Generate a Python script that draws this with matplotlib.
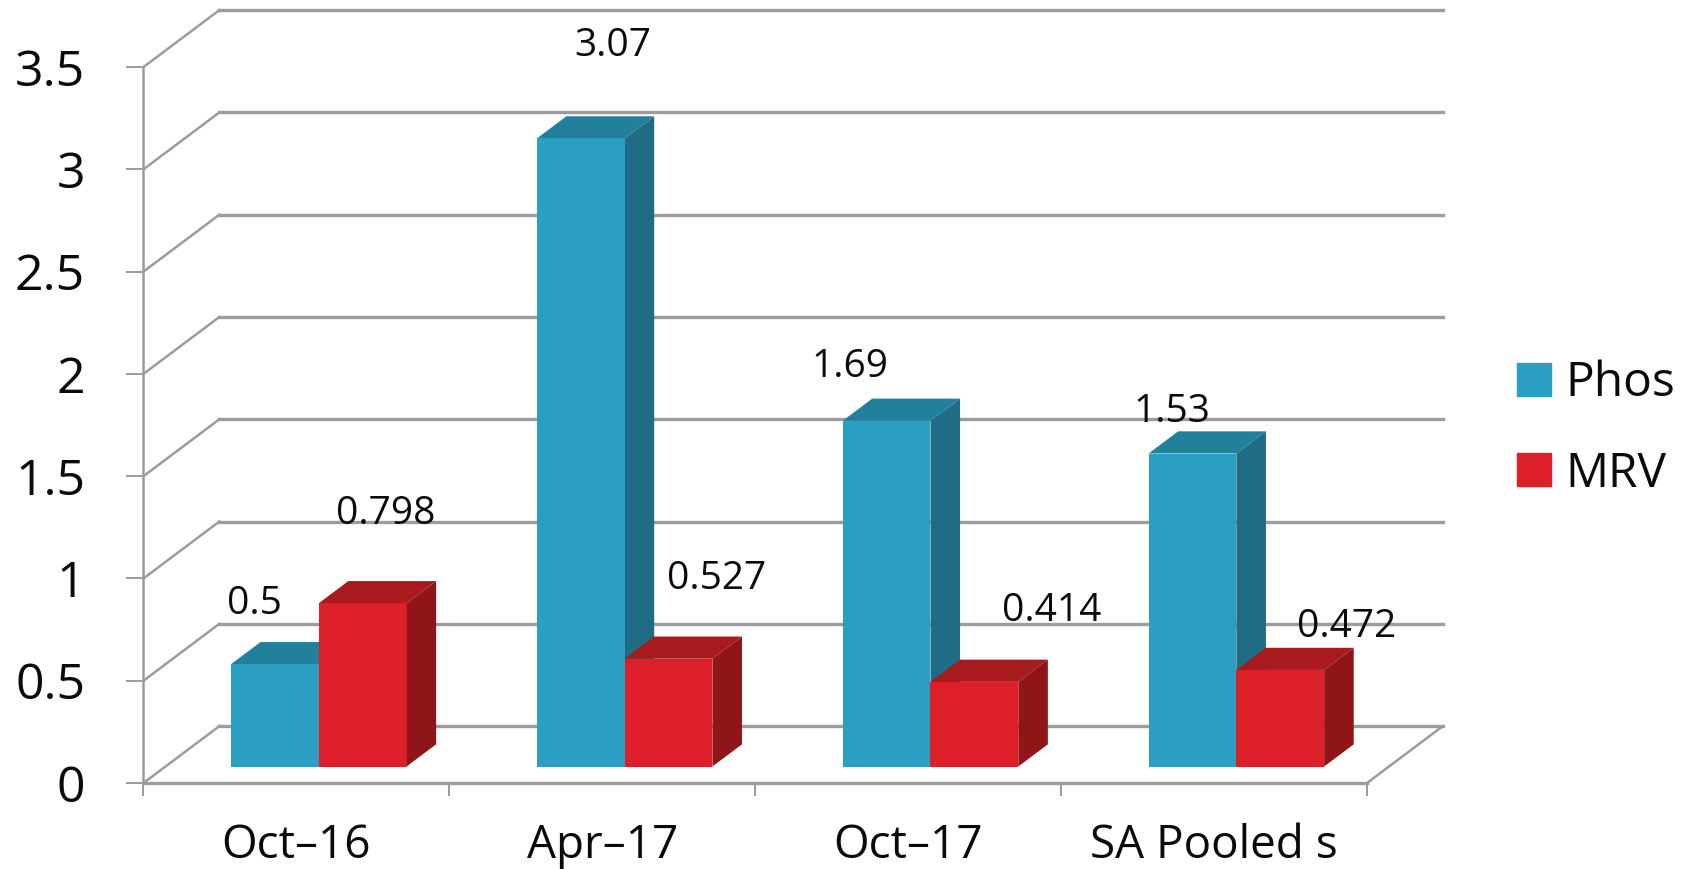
import matplotlib
matplotlib.use("Agg")
import matplotlib.pyplot as plt
from matplotlib.patches import Patch

plt.rcParams['font.family'] = ['Open Sans', 'DejaVu Sans']

# Data
categories = ["Oct\u201316", "Apr\u201317", "Oct\u201317", "SA Pooled s"]
phos = [0.5, 3.07, 1.69, 1.53]
mrv = [0.798, 0.527, 0.414, 0.472]
y_ticks = [0, 0.5, 1, 1.5, 2, 2.5, 3, 3.5]
y_tick_labels = ["0", "0.5", "1", "1.5", "2", "2.5", "3", "3.5"]

# Label nudges in pixels from the top of each bar (hand placed in the original)
phos_offsets = [(-20, 60), (32, 92), (-37, 54), (-21, 42)]
mrv_offsets = [(23, 89), (48, 80), (77, 71), (66, 43)]

# Fake 3D depth, in data units
DEPTH_X = 0.248
DEPTH_Y = 0.278
BAR_W = 0.287
BAR_GAP = 0.214
D0, D1 = 0.29, 0.68
GRID = "#9c9c9c"

W, H = 1690, 869
fig = plt.figure(figsize=(W / 100, H / 100), dpi=100, facecolor="white")
ax = fig.add_axes([143.5 / W, (H - 783) / H, (1367 - 143.5) / W, 716 / H])


def project(x, y, depth):
    return x + depth * DEPTH_X, y + depth * DEPTH_Y


def draw_bar(x, value, front, top, side):
    x1 = x + BAR_W
    fx0, fy0 = project(x, 0, D0)
    fx1, fy1 = project(x1, value, D0)
    bx0, by0 = project(x, 0, D1)
    bx1, by1 = project(x1, value, D1)
    ax.fill([fx1, bx1, bx1, fx1], [fy0, by0, by1, fy1], color=side, lw=0, zorder=3, clip_on=False)
    ax.fill([fx0, fx1, bx1, bx0], [fy1, fy1, by1, by1], color=top, lw=0, zorder=3, clip_on=False)
    ax.fill([fx0, fx1, fx1, fx0], [fy0, fy0, fy1, fy1], color=front, lw=0, zorder=3, clip_on=False)
    return (fx0 + fx1) / 2, fy1


# Walls and floor
for t in y_ticks:
    bx0, by = project(0, t, 1)
    bx1, _ = project(len(categories), t, 1)
    ax.plot([0, bx0], [t, by], color=GRID, lw=1.8, zorder=1, clip_on=False)
    ax.plot([bx0, bx1], [by, by], color=GRID, lw=2.4, zorder=1, clip_on=False)
bx1, by = project(len(categories), 0, 1)
ax.plot([len(categories), bx1], [0, by], color=GRID, lw=1.8, zorder=1, clip_on=False)

# Bars
for i in range(len(categories)):
    x = i + BAR_GAP
    cx, cy = draw_bar(x, phos[i], "#2a9fc1", "#21809b", "#1f6c84")
    ax.annotate(str(phos[i]), (cx, cy), xytext=phos_offsets[i], textcoords="offset pixels",
                ha="center", va="center", fontsize=28, color="#0a0a0a", zorder=5, annotation_clip=False)
    cx, cy = draw_bar(x + BAR_W, mrv[i], "#dc1f28", "#a81a1d", "#8f1519")
    ax.annotate(str(mrv[i]), (cx, cy), xytext=mrv_offsets[i], textcoords="offset pixels",
                ha="center", va="center", fontsize=28, color="#0a0a0a", zorder=5, annotation_clip=False)

ax.set_xlim(0, len(categories))
ax.set_ylim(0, 3.5)

for s in ["top", "right"]:
    ax.spines[s].set_visible(False)
for s in ["left", "bottom"]:
    ax.spines[s].set_color(GRID)
    ax.spines[s].set_linewidth(1.8)
ax.spines["bottom"].set_linewidth(2.4)

ax.set_yticks(y_ticks)
ax.set_yticklabels(y_tick_labels, fontsize=36, color="#0a0a0a")
ax.tick_params(axis="y", length=12, width=1.4, color=GRID, pad=30)

ax.set_xticks(range(len(categories) + 1))
ax.set_xticklabels([])
ax.set_xticks([i + 0.5 for i in range(len(categories))], minor=True)
ax.set_xticklabels(categories, minor=True, fontsize=33, color="#0a0a0a")
ax.tick_params(axis="x", which="major", length=9.5, width=1.4, color=GRID)
ax.tick_params(axis="x", which="minor", length=0, pad=29)

handles = [Patch(color="#2a9fc1", label="Phos"), Patch(color="#dc1f28", label="MRV")]
fig.legend(handles=handles, loc="upper left", bbox_to_anchor=(1517 / W, 1 - 360 / H), frameon=False,
           fontsize=34.5, handlelength=0.71, handleheight=0.69, handletextpad=0.3, labelspacing=0.89,
           borderpad=0, borderaxespad=0, labelcolor="#0a0a0a")

fig.savefig("out.png", dpi=100)
